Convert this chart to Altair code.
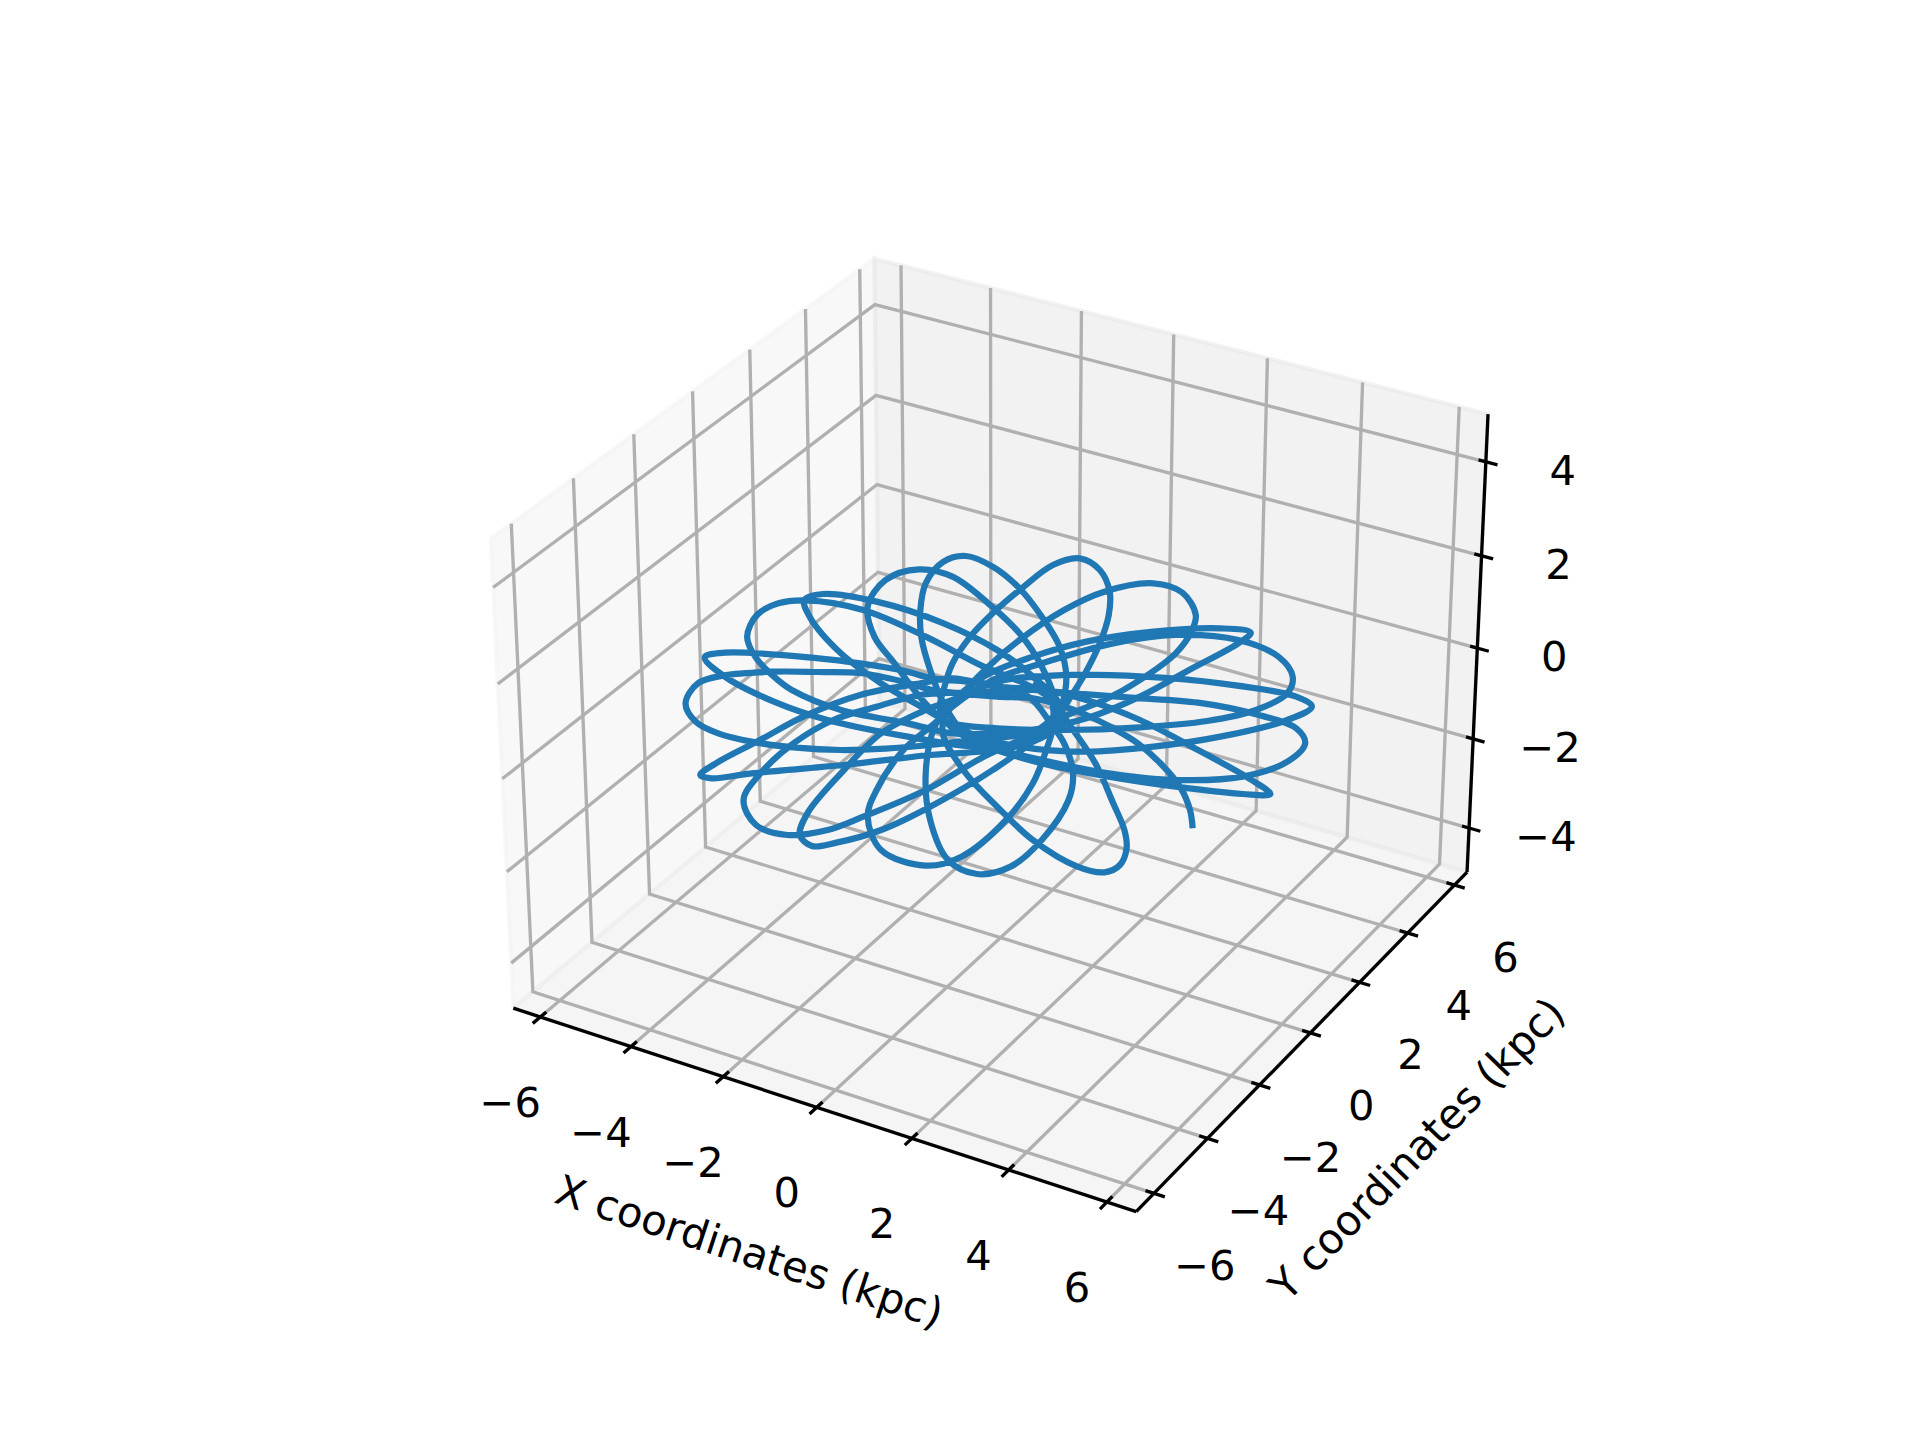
import math
import altair as alt
import pandas as pd

# ---- values ----
x_ticks = [-6, -4, -2, 0, 2, 4, 6]
y_ticks = [-6, -4, -2, 0, 2, 4, 6]
z_ticks = [-4, -2, 0, 2, 4]
x_lim = (-6.6, 6.59)
y_lim = (-6.65, 6.55)
z_lim = (-5.0, 5.0)
x_title = "X coordinates (kpc)"
y_title = "Y coordinates (kpc)"

# orbit (crop units of the traced region)
orbit_u = [1238,1232,1210,1165,1114,1060,1000,940,880,800,700,656,590,493,400,300,190,130,102,125,175,250,350,450,550,650,750,850,
           905,938,965,995,1030,1050,1052,1030,985,925,855,790,740,700,680,672,
           700,770,900,1050,1200,1350,1412,1370,1250,1120,1000,900,800,
           700,628,493,366,269,170,135,160,250,456,650,800,880,
           925,945,955,940,900,850,790,730,680,640,628,630,650,680,
           720,800,900,1050,1200,1350,1450,1490,1470,1380,1250,1100,950,
           880,800,720,628,530,433,344,270,232,260,330,420,500,640,770,880,
           925,930,900,850,780,700,625,550,510,525,570,620,670,740,
           850,1000,1150,1300,1450,1505,1470,1300,1130,950,800,700,
           640,540,450,375,358,385,440,540,650,790,900,940,
           880,800,680,530,410,368,380,450,540,630,700,800,
           950,1120,1270,1380,1450,1462,1430,1340,1200,1060,900,790,700,
           660,590,530,510,540,640,720,820,880,910,925,
           920,860,770,640,500,370,310,262,240,258,300,340,450,600,700,800,
           900,1000,1120,1230,1340,1368,1300,1150,1000,880,770,690,
           660,640,650,690,755,830,900,960,970,950,920,
           870,770,656,590,493,400,190,145,190,300,420,600,760,870,
           950,1040,1120,1200,1235,1245,1215,1150,1040,950,850,780,710,680,
           680,730,800,880,980,1040,1075,1090,1085,1060,1020,960,920,880]
orbit_v = [925,870,801,729,669,625,585,555,535,530,518,510,485,459,456,455,466,490,550,605,640,665,683,690,686,675,660,645,
           625,585,530,465,370,285,215,150,115,135,205,280,350,430,510,570,
           625,675,730,770,800,822,822,780,690,600,540,510,500,
           475,490,525,590,660,730,765,775,760,735,705,690,665,
           630,560,470,380,290,205,140,108,125,190,270,350,450,550,
           630,685,720,760,780,770,725,670,625,583,548,533,518,
           510,515,518,525,560,600,670,760,840,915,945,930,890,810,710,640,
           590,550,440,340,250,170,148,180,260,350,430,520,590,640,
           680,695,680,650,600,560,530,490,470,465,485,540,
           570,640,760,880,945,978,968,930,860,750,640,560,
           470,390,310,245,222,240,290,400,490,560,610,625,
           630,622,603,570,520,470,410,360,345,370,430,480,560,
           610,690,810,890,990,1037,1010,900,790,690,620,
           540,490,440,350,270,241,250,285,350,410,470,510,570,610,640,640,
           625,595,530,450,370,338,325,335,365,410,470,560,
           620,760,900,1020,1062,1040,960,840,760,670,610,
           530,490,475,452,430,415,398,412,470,545,600,650,680,660,
           590,540,480,400,335,285,218,190,215,270,360,440,540,600,
           650,760,860,960,1040,1057,1035,985,930,850,730,610,530,490]

x_tick_label_off = (-30, 87)
y_tick_label_off = (51, 74)
z_tick_label_off = (77, 10)
x_title_pos = (749, 1253, 18.2)
y_title_pos = (1418, 1150, -45.8)

# ---- default 3-D view of the reference ----
ELEV, AZIM, DIST = math.radians(30), math.radians(-60), 10.0
B = [4 * 1.8294640721620434 * 25 / 24 / math.sqrt(41)] * 2 + [3 * 1.8294640721620434 * 25 / 24 / math.sqrt(41)]
R = [b / 2 for b in B]
W = (math.cos(ELEV) * math.cos(AZIM), math.cos(ELEV) * math.sin(AZIM), math.sin(ELEV))
U = (-W[1] / math.cos(ELEV), W[0] / math.cos(ELEV), 0.0)
V = (W[1] * U[2] - W[2] * U[1], W[2] * U[0] - W[0] * U[2], W[0] * U[1] - W[1] * U[0])
CX, CY, PX = 999.0, 712.2, 5993.5


def proj(x, y, z):
    p = [(x - x_lim[0]) / (x_lim[1] - x_lim[0]) * B[0] - R[0],
         (y - y_lim[0]) / (y_lim[1] - y_lim[0]) * B[1] - R[1],
         (z - z_lim[0]) / (z_lim[1] - z_lim[0]) * B[2] - R[2]]
    dot = lambda a, b: sum(i * j for i, j in zip(a, b))
    d = DIST - dot(W, p)
    return CX + PX * dot(U, p) / d, CY - PX * dot(V, p) / d


x0, x1 = x_lim
y0, y1 = y_lim
z0, z1 = z_lim

X = alt.X("px:Q", scale=alt.Scale(domain=[8, 1700]), axis=None)
Y = alt.Y("py:Q", scale=alt.Scale(domain=[1400, 8]), axis=None)


def polyline_rows(paths):
    rows = []
    for k, path in enumerate(paths):
        for i, pt in enumerate(path):
            px, py = proj(*pt)
            rows.append({"px": px, "py": py, "id": k, "i": i})
    return pd.DataFrame(rows)


def lines(paths, color, width, opacity=1.0, cap="butt"):
    return alt.Chart(polyline_rows(paths)).mark_line(
        color=color, strokeWidth=width, opacity=opacity, strokeCap=cap, strokeJoin="miter"
    ).encode(x=X, y=Y, detail="id:N", order="i:Q")


def pane(corners, color):
    pts = [proj(*c) for c in corners]
    xs = sorted(set(p[0] for p in pts))
    rows = []
    n = len(pts)
    for x in xs:
        ys = []
        for a in range(n):
            p, q = pts[a], pts[(a + 1) % n]
            if min(p[0], q[0]) <= x <= max(p[0], q[0]):
                if p[0] == q[0]:
                    ys += [p[1], q[1]]
                else:
                    ys.append(p[1] + (q[1] - p[1]) * (x - p[0]) / (q[0] - p[0]))
        rows.append({"px": x, "py": min(ys), "py2": max(ys)})
    fill = alt.Chart(pd.DataFrame(rows)).mark_area(color=color, opacity=0.5, strokeWidth=0).encode(
        x=X, y=Y, y2="py2:Q")
    edge = lines([corners + corners[:1]], color, 4.17, 0.5)
    return fill + edge


pane_x = [(x0, y0, z0), (x0, y1, z0), (x0, y1, z1), (x0, y0, z1)]
pane_y = [(x0, y1, z0), (x1, y1, z0), (x1, y1, z1), (x0, y1, z1)]
pane_z = [(x0, y0, z0), (x1, y0, z0), (x1, y1, z0), (x0, y1, z0)]

grid_paths = (
    [[(t, y0, z0), (t, y1, z0), (t, y1, z1)] for t in x_ticks]
    + [[(x1, t, z0), (x0, t, z0), (x0, t, z1)] for t in y_ticks]
    + [[(x0, y0, t), (x0, y1, t), (x1, y1, t)] for t in z_ticks]
)
axis_paths = [[(x0, y0, z0), (x1, y0, z0)], [(x1, y0, z0), (x1, y1, z0)], [(x1, y1, z0), (x1, y1, z1)]]
tick_paths = (
    [[(t, y0 - 0.25, z0), (t, y0 + 0.2, z0)] for t in x_ticks]
    + [[(x1 + 0.22, t, z0), (x1 - 0.17, t, z0)] for t in y_ticks]
    + [[(x1 + 0.24, y1, t), (x1 - 0.15, y1, t)] for t in z_ticks]
)

label_rows = []
for t in x_ticks:
    px, py = proj(t, y0, z0)
    label_rows.append({"px": px + x_tick_label_off[0], "py": py + x_tick_label_off[1], "t": str(t).replace("-", "\u2212")})
for t in y_ticks:
    px, py = proj(x1, t, z0)
    label_rows.append({"px": px + y_tick_label_off[0], "py": py + y_tick_label_off[1], "t": str(t).replace("-", "\u2212")})
for t in z_ticks:
    px, py = proj(x1, y1, t)
    label_rows.append({"px": px + z_tick_label_off[0], "py": py + z_tick_label_off[1], "t": str(t).replace("-", "\u2212")})

FONT = "DejaVu Sans"
labels = alt.Chart(pd.DataFrame(label_rows)).mark_text(
    font=FONT, fontSize=41.67, color="black", align="center", baseline="middle"
).encode(x=X, y=Y, text="t:N")


def title(text, pos):
    return alt.Chart(pd.DataFrame([{"px": pos[0], "py": pos[1], "t": text}])).mark_text(
        font=FONT, fontSize=41.67, color="black", align="center", baseline="middle", angle=(pos[2] + 360) % 360
    ).encode(x=X, y=Y, text="t:N")


orbit = pd.DataFrame({
    "px": [640 + u / 2.24 for u in orbit_u],
    "py": [520 + v / 3 for v in orbit_v],
    "i": range(len(orbit_u)),
})
curve = alt.Chart(orbit).mark_line(
    color="#1f77b4", strokeWidth=6.25, interpolate="catmull-rom", strokeCap="butt", strokeJoin="round"
).encode(x=X, y=Y, order="i:Q")

chart = alt.layer(
    pane(pane_x, "#f2f2f2"),
    pane(pane_y, "#e6e6e6"),
    pane(pane_z, "#ececec"),
    lines(grid_paths, "#b0b0b0", 3.33),
    lines(axis_paths, "black", 3.33),
    lines(tick_paths, "black", 3.33),
    labels,
    title(x_title, x_title_pos),
    title(y_title, y_title_pos),
    curve,
).properties(width=1692, height=1392, padding=0, background="white", autosize="none").configure_view(stroke=None)

chart.save("out.html", embed_options={"renderer": "svg", "actions": False})
